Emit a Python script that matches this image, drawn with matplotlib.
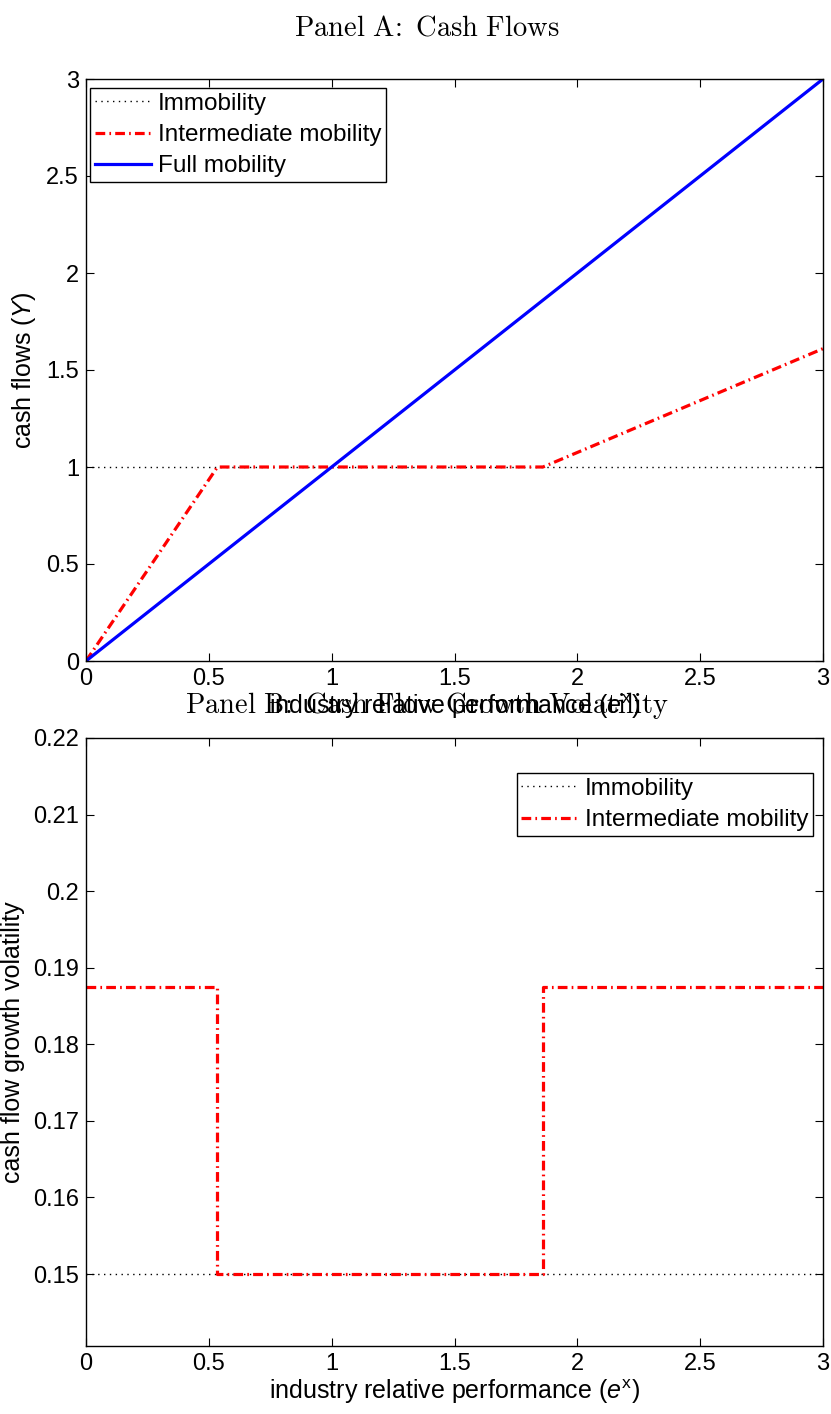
import matplotlib
matplotlib.use("Agg")
import matplotlib.pyplot as plt

plt.rcParams['font.family'] = ['Liberation Sans', 'DejaVu Sans']
plt.rcParams['mathtext.fontset'] = 'custom'
plt.rcParams['mathtext.rm'] = 'Liberation Sans'
plt.rcParams['mathtext.it'] = 'Liberation Sans:italic'
plt.rcParams['mathtext.bf'] = 'Liberation Sans:bold'
plt.rcParams['lines.scale_dashes'] = False

# Panel A data
x_full = [0, 3]
y_full = [0, 3]
x_immob = [0, 3]
y_immob = [1, 1]
x_inter = [0, 0.535, 1.86, 3]
y_inter = [0, 1, 1, 1.61]

# Panel B data
x_vol_immob = [0, 3]
y_vol_immob = [0.15, 0.15]
x_vol_inter = [0, 0.535, 0.535, 1.86, 1.86, 3]
y_vol_inter = [0.1875, 0.1875, 0.15, 0.15, 0.1875, 0.1875]

xticks = [0, 0.5, 1, 1.5, 2, 2.5, 3]
xticklabels = ['0', '0.5', '1', '1.5', '2', '2.5', '3']
yticks_a = [0, 0.5, 1, 1.5, 2, 2.5, 3]
yticklabels_a = ['0', '0.5', '1', '1.5', '2', '2.5', '3']
yticks_b = [0.15, 0.16, 0.17, 0.18, 0.19, 0.2, 0.21, 0.22]
yticklabels_b = ['0.15', '0.16', '0.17', '0.18', '0.19', '0.2', '0.21', '0.22']

W, H = 831, 1414
fig = plt.figure(figsize=(W / 100, H / 100), dpi=100)

def frac(l, t, r, b):
    return [l / W, 1 - b / H, (r - l) / W, (b - t) / H]

ax1 = fig.add_axes(frac(86, 79, 823, 661))
ax2 = fig.add_axes(frac(86, 738, 823, 1346))

dotted = dict(color='black', lw=1.0, linestyle=(0, (1.0, 3.2)))
dashdot = dict(color='#ff0000', lw=2.3, dashes=(7, 3, 1.2, 3))

ax1.plot(x_immob, y_immob, label='Immobility', **dotted)
ax1.plot(x_inter, y_inter, label='Intermediate mobility', **dashdot)
ax1.plot(x_full, y_full, color='#0000ff', lw=2.3, label='Full mobility')
ax1.set_xlim(0, 3)
ax1.set_ylim(0, 3)
ax1.set_yticks(yticks_a)
ax1.set_yticklabels(yticklabels_a)
ax1.set_ylabel(r'cash flows ($\mathit{Y}$)', fontsize=18, labelpad=6)
ax1.set_xlabel(r'industry relative performance ($\mathit{e}^{\mathrm{x}}$)', fontsize=18, labelpad=2)

ax2.plot(x_vol_immob, y_vol_immob, label='Immobility', **dotted)
ax2.plot(x_vol_inter, y_vol_inter, label='Intermediate mobility', **dashdot)
ax2.set_xlim(0, 3)
ax2.set_ylim(0.1406, 0.22)
ax2.set_yticks(yticks_b)
ax2.set_yticklabels(yticklabels_b)
ax2.set_ylabel('cash flow growth volatility', fontsize=18, labelpad=6)
ax2.set_xlabel(r'industry relative performance ($\mathit{e}^{\mathrm{x}}$)', fontsize=18, labelpad=2)

for ax in (ax1, ax2):
    ax.set_xticks(xticks)
    ax.set_xticklabels(xticklabels)
    ax.tick_params(direction='in', length=6, width=0.8, labelsize=17,
                   top=True, right=True, pad=5)
    for s in ax.spines.values():
        s.set_linewidth(1.0)

leg_kw = dict(fontsize=17.5, frameon=True, fancybox=False, edgecolor='black',
              framealpha=1, handlelength=2.3, handletextpad=0.3, borderpad=0.2,
              labelspacing=0.38, borderaxespad=0.0)
leg1 = ax1.legend(loc='upper left', bbox_to_anchor=(0.0054, 0.9845), **leg_kw)
leg1.get_frame().set_linewidth(1.0)
leg2 = ax2.legend(loc='upper right', bbox_to_anchor=(0.9864, 0.9424), **leg_kw)
leg2.get_frame().set_linewidth(1.0)

fig.text(427 / W, 1 - 28 / H, r'$\mathrm{Panel\ A\!:\ Cash\ Flows}$',
         ha='center', va='center', fontsize=20.5, math_fontfamily='cm')
fig.text(427 / W, 1 - 705 / H, r'$\mathrm{Panel\ B\!:\ Cash\ Flow\ Growth\ Volatility}$',
         ha='center', va='center', fontsize=20.5, math_fontfamily='cm')

fig.savefig('out.png', dpi=100)
